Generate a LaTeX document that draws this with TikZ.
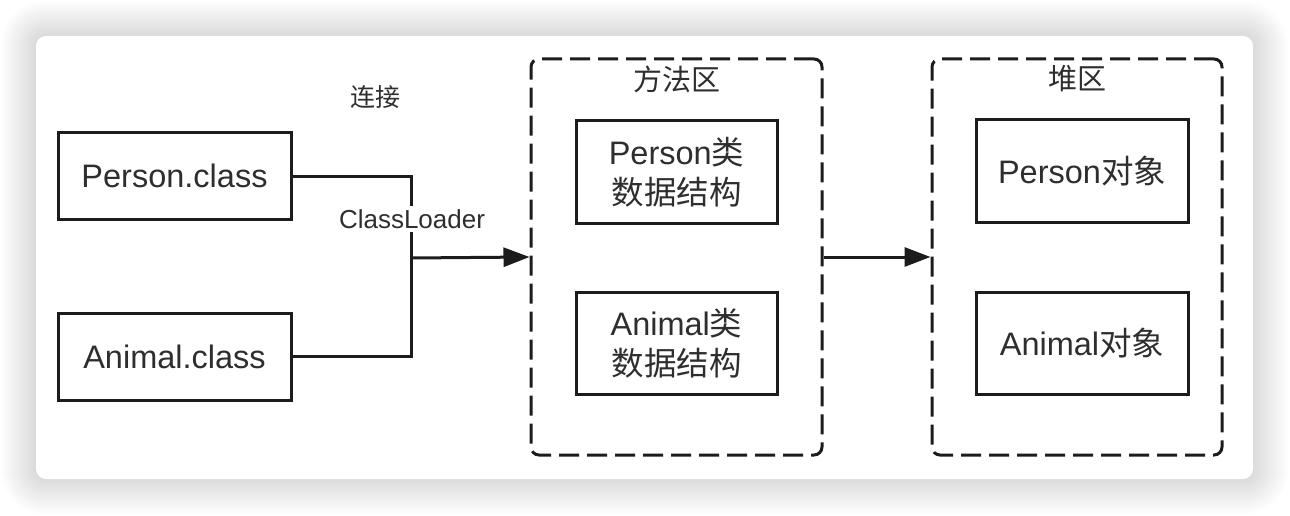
\documentclass[tikz,border=0pt]{standalone}
\usepackage{fontspec}
\setmainfont{Liberation Sans}
\newfontfamily\cjk{Noto Sans CJK SC}
\usetikzlibrary{arrows.meta}

\definecolor{ink}{HTML}{1C1C1C}
\definecolor{txt}{HTML}{2E2E2E}

\tikzset{
  solidbox/.style={draw=ink, line width=3pt, fill=white, text=txt, align=center,
    inner sep=0pt, font=\fontsize{32.5}{40}\selectfont},
  areabox/.style={draw=ink, line width=3pt, dash pattern=on 20pt off 8pt,
    rounded corners=8pt, inner sep=0pt},
  areatitle/.style={text=txt, inner sep=0pt, font=\cjk\fontsize{29}{34}\selectfont},
  smalllabel/.style={text=txt, inner sep=2pt, font=\fontsize{26}{30}\selectfont},
  wire/.style={draw=ink, line width=3pt},
  arr/.style={wire, -{Triangle[length=26pt,width=19pt]}},
}

\begin{document}
\begin{tikzpicture}[x=1pt,y=-1pt]
  % canvas
  \fill[white] (0,0) rectangle (1290,516);
  \useasboundingbox (0,0) rectangle (1290,516);
  % soft shadow: stacked translucent rounded rectangles
  \foreach \k in {1,...,36}{
    \fill[black, fill opacity=0.0055, rounded corners={10pt+\k pt}]
      (36-\k,36-\k) rectangle (1253+\k,479+\k);
  }
  % card
  \fill[white, rounded corners=10pt] (36,36) rectangle (1253,479);

  % class files
  \node[solidbox, minimum width=233pt, minimum height=86pt] (pc) at (174.5,176) {Person.class};
  \node[solidbox, minimum width=233pt, minimum height=87pt] (ac) at (174.5,356.5) {Animal.class};

  % method area
  \node[areabox, minimum width=291pt, minimum height=396pt] (ma) at (676.5,257) {};
  \node[areatitle] (mat) at (676.5,79) {方法区};
  \node[solidbox, minimum width=201pt, minimum height=102pt] (pm) at (676.5,172)
    {Person{\cjk 类}\\{\cjk 数据结构}};
  \node[solidbox, minimum width=201pt, minimum height=102pt] (am) at (676.5,343)
    {Animal{\cjk 类}\\{\cjk 数据结构}};

  % heap
  \node[areabox, minimum width=290pt, minimum height=396pt] (hp) at (1077,257) {};
  \node[areatitle] (hpt) at (1077,79) {堆区};
  \node[solidbox, minimum width=212pt, minimum height=102pt] (po) at (1082,171)
    {Person{\cjk 对象}};
  \node[solidbox, minimum width=212pt, minimum height=102pt] (ao) at (1082,343)
    {Animal{\cjk 对象}};

  % loading connectors
  \coordinate (j) at (411,258);
  \draw[wire] (pc.east) -| (j);
  \draw[wire] (ac.east) -| (j);
  \draw[arr] (j) -- (ma.west);
  \draw[arr] (ma.east) -- (hp.west);

  \node[smalllabel, fill=white, inner sep=3pt] (cl) at (412,219) {ClassLoader};
  \node[smalllabel, font=\cjk\fontsize{25}{30}\selectfont] (lk) at (375,97) {连接};
\end{tikzpicture}
\end{document}
